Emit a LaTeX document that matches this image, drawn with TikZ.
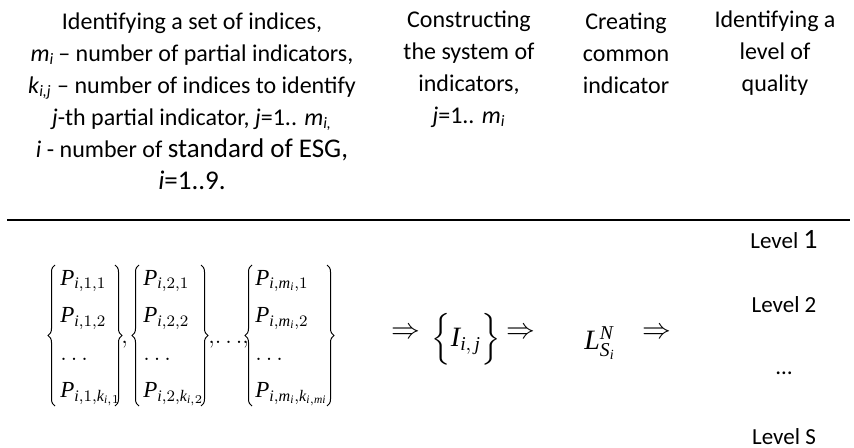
\documentclass[tikz,border=0pt]{standalone}
\usepackage{fontspec}
\usepackage{amsmath}
\usetikzlibrary{decorations.pathreplacing}
\setmainfont{Carlito}
\newfontfamily\serfont{Liberation Serif}[NFSSFamily=libser]
\DeclareMathAlphabet{\mathlib}{TU}{libser}{m}{it}
\begin{document}
\begin{tikzpicture}[x=0.5pt,y=-0.5pt]
\tikzset{head/.style = {align=center, font=\fontsize{12}{16}\selectfont, inner sep=0pt}}
\tikzset{lvl/.style = {font=\fontsize{11.5}{13}\selectfont, inner sep=0pt}}
\tikzset{imp/.style = {font=\fontsize{14}{16}\selectfont, inner sep=0pt}}
\tikzset{frm/.style = {font=\fontsize{11.5}{13.6}\selectfont, inner sep=0pt, anchor=west}}
\tikzset{brc/.style = {decorate, decoration={brace, amplitude=3.5pt}, line width=0.5pt}}
\useasboundingbox (0,0) rectangle (854,448);

% header of the four steps
\node[head] (setind) at (192,101) {Identifying a set of indices,\\
  \textit{m}\textsubscript{\textit{i}}\,-- number of partial indicators,\\
  \textit{k}\textsubscript{\textit{i,j}} -- number of indices to identify\\
  \textit{j}-th partial indicator, \textit{j}=1.. \textit{m}\textsubscript{\textit{i,}}\\
  \textit{i} - number of {\fontsize{13.5}{16}\selectfont standard of ESG,}\\
  {\fontsize{13.5}{16}\selectfont\textit{i}=1..9.}};
\node[head] (sysind) at (469,69) {Constructing\\ the system of\\ indicators,\\
  \textit{j}=1.. \textit{m}\textsubscript{\textit{i}}};
\node[head] (comind) at (626,53) {Creating\\ common\\ indicator};
\node[head] (qualev) at (775,53) {Identifying a\\ level of\\ quality};

\coordinate (ruleL) at (7,220);
\coordinate (ruleR) at (850,220);
\draw[line width=1.3pt] (ruleL) -- (ruleR);

% sets of partial indices
\node[frm] (pA) at (60,334) {$\renewcommand{\arraystretch}{1.38}
  \begin{array}{@{}l@{}}\mathlib{P}_{\mathlib{i},1,1}\\ \mathlib{P}_{\mathlib{i},1,2}\\ \ldots\\
  \mathlib{P}_{\mathlib{i},1,\mathlib{k}_{\mathlib{i},1}}\end{array}$};
\node[frm] (pB) at (143,334) {$\renewcommand{\arraystretch}{1.38}
  \begin{array}{@{}l@{}}\mathlib{P}_{\mathlib{i},2,1}\\ \mathlib{P}_{\mathlib{i},2,2}\\ \ldots\\
  \mathlib{P}_{\mathlib{i},2,\mathlib{k}_{\mathlib{i},2}}\end{array}$};
\node[frm] (pC) at (255,334) {$\renewcommand{\arraystretch}{1.38}
  \begin{array}{@{}l@{}}\mathlib{P}_{\mathlib{i},\mathlib{m}_\mathlib{i},1}\\ \mathlib{P}_{\mathlib{i},\mathlib{m}_\mathlib{i},2}\\ \ldots\\
  \mathlib{P}_{\mathlib{i},\mathlib{m}_\mathlib{i},\mathlib{k}_{\mathlib{i},\mathlib{mi}}}\end{array}$};
\node[frm] (cmA) at (121,345) {$,$};
\node[frm] (cmB) at (208,345) {${,}{\ldots}{,}$};
\foreach \xl/\xr in {55/115, 139/201, 252/327} {
  \draw[brc] (\xl,406) -- (\xl,265);
  \draw[brc] (\xr,265) -- (\xr,406);
}

\node[imp] (arrA) at (406,333) {$\Rightarrow$};
\node[imp] (sysI) at (466,339) {$\Bigl\{\mathlib{I}_{\mathlib{i},\,\mathlib{j}}\Bigr\}$};
\node[imp] (arrB) at (521,333) {$\Rightarrow$};
\node[imp] (comL) at (600,343) {$\mathlib{L}^{\mathlib{N}}_{\mathlib{S}_\mathlib{i}}$};
\node[imp] (arrC) at (657,333) {$\Rightarrow$};

% levels of quality
\node[lvl] (levA) at (784,240) {Level {\fontsize{14}{16}\selectfont 1}};
\node[lvl] (levB) at (784,305) {Level 2};
\node[lvl] (levD) at (784,373) {\dots};
\node[lvl] (levS) at (784,437) {Level S};
\end{tikzpicture}
\end{document}
